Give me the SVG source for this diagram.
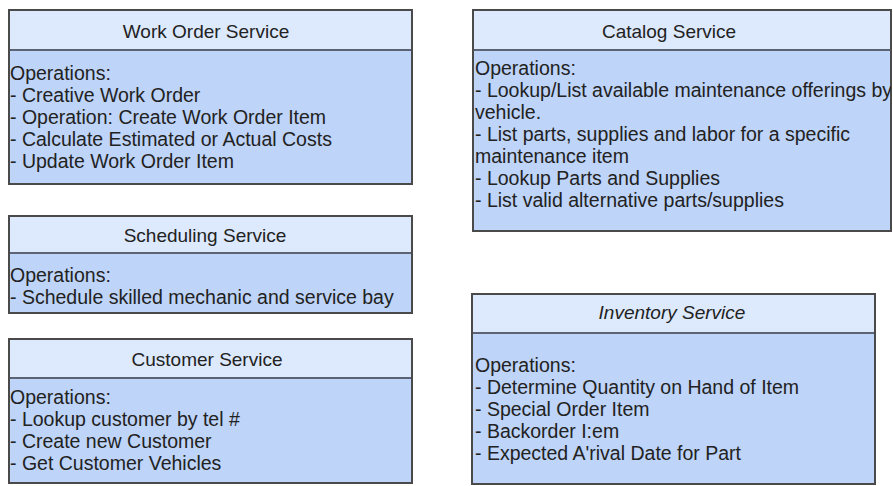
<svg xmlns="http://www.w3.org/2000/svg" width="893" height="486" viewBox="0 0 893 486">
<style>
.box{stroke:#4a4a4a;stroke-width:2}
.head{fill:#dde9fd}
.body{fill:#bed4f8}
.div{stroke:#5b6374;stroke-width:2}
.t{font-family:"Liberation Sans",Arial,sans-serif;font-size:19px;fill:#222;text-anchor:middle}
.b{font-family:"Liberation Sans",Arial,sans-serif;font-size:19.5px;fill:#222}
</style>
<defs>
<clipPath id="clipCat"><rect x="472" y="9" width="419" height="223"/></clipPath>
</defs>
<rect width="893" height="486" fill="#ffffff"/>

<g id="work-order-service">
<rect class="body" x="9" y="10" width="403" height="174"/>
<rect class="head" x="9" y="10" width="403" height="40"/>
<line class="div" x1="9" y1="50" x2="412" y2="50"/>
<rect class="box" x="9" y="10" width="403" height="174" fill="none"/>
<text class="t" x="206" y="38">Work Order Service</text>
<text class="b" x="10" y="80">Operations:</text>
<text class="b" x="10" y="102">- Creative Work Order</text>
<text class="b" x="10" y="124">- Operation: Create Work Order Item</text>
<text class="b" x="10" y="146">- Calculate Estimated or Actual Costs</text>
<text class="b" x="10" y="168">- Update Work Order Item</text>
</g>

<g id="catalog-service">
<rect class="body" x="473" y="10" width="418" height="221"/>
<rect class="head" x="473" y="10" width="418" height="40"/>
<line class="div" x1="473" y1="50" x2="891" y2="50"/>
<rect class="box" x="473" y="10" width="418" height="221" fill="none"/>
<text class="t" x="669" y="38">Catalog Service</text>
<g clip-path="url(#clipCat)">
<text class="b" x="475" y="75">Operations:</text>
<text class="b" x="475" y="97">- Lookup/List available maintenance offerings by</text>
<text class="b" x="475" y="119">vehicle.</text>
<text class="b" x="475" y="141">- List parts, supplies and labor for a specific</text>
<text class="b" x="475" y="163">maintenance item</text>
<text class="b" x="475" y="185">- Lookup Parts and Supplies</text>
<text class="b" x="475" y="207">- List valid alternative parts/supplies</text>
</g>
</g>

<g id="scheduling-service">
<rect class="body" x="9" y="216" width="403" height="97"/>
<rect class="head" x="9" y="216" width="403" height="37"/>
<line class="div" x1="9" y1="253" x2="412" y2="253"/>
<rect class="box" x="9" y="216" width="403" height="97" fill="none"/>
<text class="t" x="205" y="242">Scheduling Service</text>
<text class="b" x="10" y="282">Operations:</text>
<text class="b" x="10" y="304">- Schedule skilled mechanic and service bay</text>
</g>

<g id="customer-service">
<rect class="body" x="9" y="339" width="403" height="144"/>
<rect class="head" x="9" y="339" width="403" height="39"/>
<line class="div" x1="9" y1="378" x2="412" y2="378"/>
<rect class="box" x="9" y="339" width="403" height="144" fill="none"/>
<text class="t" x="207" y="366">Customer Service</text>
<text class="b" x="10" y="404">Operations:</text>
<text class="b" x="10" y="426">- Lookup customer by tel #</text>
<text class="b" x="10" y="448">- Create new Customer</text>
<text class="b" x="10" y="470">- Get Customer Vehicles</text>
</g>

<g id="inventory-service">
<rect class="body" x="472" y="294" width="403" height="190"/>
<rect class="head" x="472" y="294" width="403" height="39"/>
<line class="div" x1="472" y1="333" x2="875" y2="333"/>
<rect class="box" x="472" y="294" width="403" height="190" fill="none"/>
<text class="t" x="672" y="319" font-style="italic">Inventory Service</text>
<text class="b" x="475" y="372">Operations:</text>
<text class="b" x="475" y="394">- Determine Quantity on Hand of Item</text>
<text class="b" x="475" y="416">- Special Order Item</text>
<text class="b" x="475" y="438">- Backorder I:em</text>
<text class="b" x="475" y="460">- Expected A'rival Date for Part</text>
</g>

<g id="connectors"></g>
</svg>
